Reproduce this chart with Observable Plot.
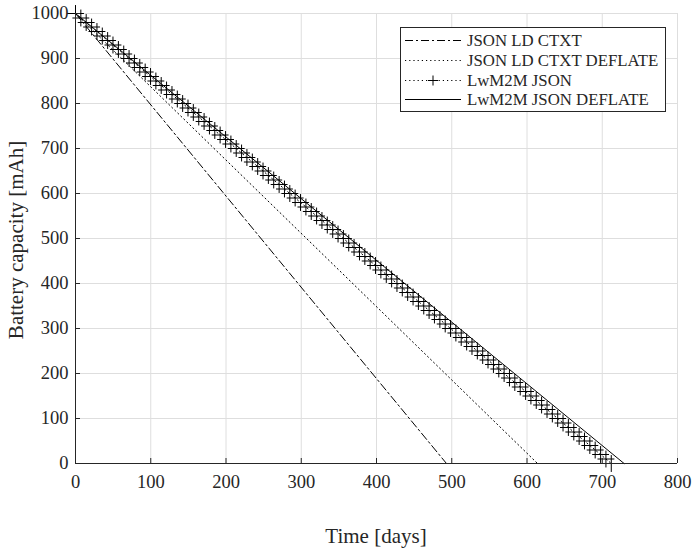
<!DOCTYPE html>
<html><head><meta charset="utf-8">
<script src="https://cdn.jsdelivr.net/npm/d3@7"></script>
<script src="https://cdn.jsdelivr.net/npm/@observablehq/plot@0.6"></script>
<style>
body{margin:0;background:#fff;}
#wrap{position:relative;width:695px;height:549px;font-family:"Liberation Serif","Times New Roman",serif;color:#262626;}
#wrap svg text{font-family:"Liberation Serif","Times New Roman",serif;}
#xlabel{position:absolute;left:75px;width:602px;top:526px;text-align:center;font-size:21px;line-height:21px;}
#ylabel{position:absolute;left:9px;top:240px;font-size:21px;line-height:21px;white-space:nowrap;transform:translate(0,-50%) rotate(-90deg);transform-origin:center;}
#legend{position:absolute;left:400px;top:27px;}
</style></head><body><div id="wrap"></div>
<script>
// ---- data ----
const seriesNames = ["JSON LD CTXT", "JSON LD CTXT DEFLATE", "LwM2M JSON", "LwM2M JSON DEFLATE"];
const xTicks = [0, 100, 200, 300, 400, 500, 600, 700, 800];
const yTicks = [0, 100, 200, 300, 400, 500, 600, 700, 800, 900, 1000];

const ctxtDays = [0, 493];
const ctxtCap = [1000, 0];
const ctxtDeflateDays = [0, 614];
const ctxtDeflateCap = [1000, 0];
const lwDeflateDays = [0, 729];
const lwDeflateCap = [1000, 0];

const lwDays = [0, 7.1, 14.2, 21.4, 28.5, 35.6, 42.7, 49.8, 57.0, 64.1, 71.2,
  78.3, 85.4, 92.6, 99.7, 106.8, 113.9, 121.0, 128.2, 135.3, 142.4,
  149.5, 156.6, 163.8, 170.9, 178.0, 185.1, 192.2, 199.4, 206.5, 213.6,
  220.7, 227.8, 235.0, 242.1, 249.2, 256.3, 263.4, 270.6, 277.7, 284.8,
  291.9, 299.0, 306.2, 313.3, 320.4, 327.5, 334.6, 341.8, 348.9, 356.0,
  363.1, 370.2, 377.4, 384.5, 391.6, 398.7, 405.8, 413.0, 420.1, 427.2,
  434.3, 441.4, 448.6, 455.7, 462.8, 469.9, 477.0, 484.2, 491.3, 498.4,
  505.5, 512.6, 519.8, 526.9, 534.0, 541.1, 548.2, 555.4, 562.5, 569.6,
  576.7, 583.8, 591.0, 598.1, 605.2, 612.3, 619.4, 626.6, 633.7, 640.8,
  647.9, 655.0, 662.2, 669.3, 676.4, 683.5, 690.6, 697.8, 704.9, 712.0];
const lwCap = [1000, 990, 980, 970, 960, 950, 940, 930, 920, 910, 900,
  890, 880, 870, 860, 850, 840, 830, 820, 810, 800,
  790, 780, 770, 760, 750, 740, 730, 720, 710, 700,
  690, 680, 670, 660, 650, 640, 630, 620, 610, 600,
  590, 580, 570, 560, 550, 540, 530, 520, 510, 500,
  490, 480, 470, 460, 450, 440, 430, 420, 410, 400,
  390, 380, 370, 360, 350, 340, 330, 320, 310, 300,
  290, 280, 270, 260, 250, 240, 230, 220, 210, 200,
  190, 180, 170, 160, 150, 140, 130, 120, 110, 100,
  90, 80, 70, 60, 50, 40, 30, 20, 10, 0];

const xLabel = "Time [days]";
const yLabel = "Battery capacity [mAh]";

// ---- build tables ----
const zip = (xs, ys) => xs.map((x, i) => ({x, y: ys[i]}));
const ctxt = zip(ctxtDays, ctxtCap);
const ctxtDef = zip(ctxtDeflateDays, ctxtDeflateCap);
const lw = zip(lwDays, lwCap);
const lwDef = zip(lwDeflateDays, lwDeflateCap);

const styles = [
  {dash: "8,3,2,3", marker: false},
  {dash: "1.2,3", marker: false},
  {dash: "1.2,3", marker: true},
  {dash: null, marker: false}
];
const serif = '"Liberation Serif","Times New Roman",serif';

const chart = Plot.plot({
  width: 695,
  height: 549,
  marginLeft: 75,
  marginRight: 18,
  marginTop: 13,
  marginBottom: 86,
  style: {fontFamily: serif, fontSize: "18.5px", color: "#262626", background: "#fff"},
  x: {domain: [0, 800], label: null},
  y: {domain: [0, 1000], label: null},
  marks: [
    Plot.gridX(xTicks, {stroke: "#dedede", strokeOpacity: 1}),
    Plot.gridY(yTicks, {stroke: "#dedede", strokeOpacity: 1}),
    Plot.line(ctxt, {x: "x", y: "y", stroke: "black", strokeWidth: 1, strokeDasharray: styles[0].dash}),
    Plot.line(ctxtDef, {x: "x", y: "y", stroke: "black", strokeWidth: 1, strokeDasharray: styles[1].dash}),
    Plot.line(lw, {x: "x", y: "y", stroke: "black", strokeWidth: 1, strokeDasharray: styles[2].dash}),
    Plot.dot(lw, {x: "x", y: "y", symbol: "plus", r: 5.5, stroke: "black", strokeWidth: 1}),
    Plot.line(lwDef, {x: "x", y: "y", stroke: "black", strokeWidth: 1}),
    Plot.ruleX([0], {stroke: "#262626"}),
    Plot.ruleY([0], {stroke: "#262626"}),
    Plot.axisX({ticks: xTicks, tickFormat: d => String(d), tickSize: -5, tickPadding: 16, fontSize: 18.5, fontFamily: serif, stroke: "#262626", fill: "#262626", label: null}),
    Plot.axisY({ticks: yTicks, tickFormat: d => String(d), tickSize: -5, tickPadding: 12, fontSize: 18.5, fontFamily: serif, stroke: "#262626", fill: "#262626", label: null})
  ]
});

const wrap = document.getElementById("wrap");
wrap.appendChild(chart);

const xl = document.createElement("div"); xl.id = "xlabel"; xl.textContent = xLabel; wrap.appendChild(xl);
const yl = document.createElement("div"); yl.id = "ylabel"; yl.textContent = yLabel; wrap.appendChild(yl);
// center the rotated y label around x ~ 16
yl.style.left = (16 - yl.offsetWidth / 2) + "px";

// ---- legend ----
const lg = d3.select(wrap).append("svg").attr("id", "legend").attr("width", 267).attr("height", 86);
lg.append("rect").attr("x", 0.5).attr("y", 0.5).attr("width", 265).attr("height", 84)
  .attr("fill", "white").attr("stroke", "#262626").attr("stroke-width", 1);
const rowY = [13.5, 33.5, 53.5, 72.5];
seriesNames.forEach((name, i) => {
  const g = lg.append("g").attr("transform", `translate(0,${rowY[i]})`);
  const ln = g.append("line").attr("x1", 5).attr("x2", 61).attr("y1", 0).attr("y2", 0)
    .attr("stroke", "black").attr("stroke-width", 1);
  if (styles[i].dash) ln.attr("stroke-dasharray", styles[i].dash);
  if (styles[i].marker) {
    g.append("path").attr("d", "M28,0h10M33,-5v10").attr("stroke", "black").attr("stroke-width", 1);
  }
  g.append("text").attr("x", 67).attr("y", 0).attr("dy", "0.35em")
    .attr("font-family", serif).attr("font-size", 16.8)
    .attr("fill", "#262626").text(name);
});
</script>
</body></html>
